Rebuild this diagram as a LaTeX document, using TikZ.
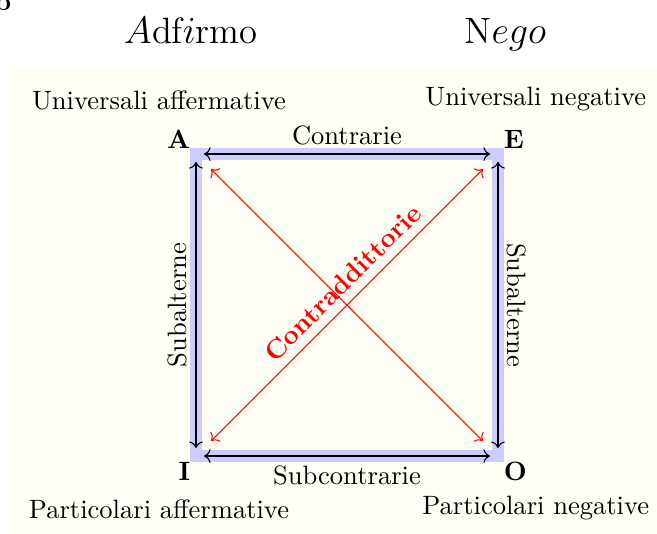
\documentclass[tikz,border=0pt]{standalone}
\usepackage{amsmath,amssymb}
\usepackage{xcolor}
\usetikzlibrary{arrows.meta,positioning,calc}

\begin{document}
\begin{tikzpicture}[
  font=\normalsize,
  vertex/.style={font=\bfseries, inner sep=2pt},
  band/.style={draw=blue!20, line width=4.2pt},
  edgearrow/.style={<->, black, shorten <=3pt, shorten >=3pt},
  diag/.style={<->, red, shorten <=8pt, shorten >=8pt},
  title/.style={font=\fontsize{13.8}{16}\selectfont, anchor=base}
]
% Sfondo
\useasboundingbox (-2.596,-1.02) rectangle (6.106,6.04);
\fill[yellow!4, rounded corners=4pt] (-2.49,-1.6) rectangle (6.6,5.14);
\node[font=\bfseries, inner sep=0pt, anchor=base east] (lbl) at (-2.44,5.907) {b};

% Titoli
\node[title] (adf)  at (-0.07,5.47) {$A$df$i$rmo};
\node[title] (nego) at (4.1,5.47)   {N$ego$};

% Vertici del quadrato
\coordinate (cA) at (0,4);
\coordinate (cE) at (4,4);
\coordinate (cI) at (0,0);
\coordinate (cO) at (4,0);
\draw[band] (cI) rectangle (cE);

\node[vertex, above left=0pt of cA]  (A) {A};
\node[vertex, above right=0pt of cE] (E) {E};
\node[vertex, below left=0pt of cI]  (I) {I};
\node[vertex, below right=0pt of cO] (O) {O};

% Descrizioni
\node (uaff) at (-0.49,4.715) {Universali affermative};
\node (uneg) at (4.50,4.73)   {Universali negative};
\node (paff) at (-0.49,-0.70) {Particolari affermative};
\node (pneg) at (4.50,-0.69)  {Particolari negative};

% Lati
\draw[edgearrow] (cA) -- node[above] (contr) {Contrarie} (cE);
\draw[edgearrow] (cI) -- node[below] (subc) {Subcontrarie} (cO);
\draw[edgearrow] (cI) -- node[above, sloped] (subl) {Subalterne} (cA);
\draw[edgearrow] (cE) -- node[above, sloped] (subr) {Subalterne} (cO);

% Diagonali
\draw[diag] (cI) -- node[pos=0.53, above, sloped, font=\bfseries] (contrad) {Contraddittorie} (cE);
\draw[diag] (cA) -- (cO);
\end{tikzpicture}
\end{document}
